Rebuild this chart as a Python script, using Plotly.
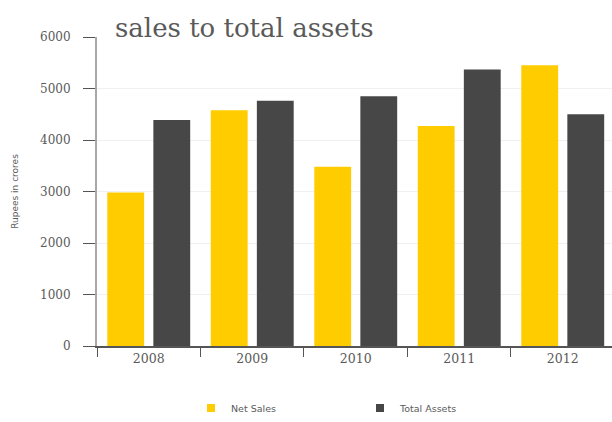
import plotly.graph_objects as go

years = ["2008", "2009", "2010", "2011", "2012"]
net_sales = [2980, 4580, 3480, 4270, 5450]
total_assets = [4390, 4760, 4850, 5370, 4500]
y_ticks = [0, 1000, 2000, 3000, 4000, 5000, 6000]

YELLOW = "#FFCC00"
DARK = "#474747"
AXIS = "#555555"
TEXT = "#5a5a5a"

fig = go.Figure()
fig.add_trace(go.Bar(name="Net Sales", x=years, y=net_sales, showlegend=False,
                     marker=dict(color=YELLOW, line=dict(width=0))))
fig.add_trace(go.Bar(name="Total Assets", x=years, y=total_assets, showlegend=False,
                     marker=dict(color=DARK, line=dict(width=0))))

# legend entries with small square swatches, one legend box per series
fig.add_trace(go.Scatter(name="Net Sales", x=[years[0]], y=[None], mode="markers",
                         marker=dict(symbol="square", size=8, color=YELLOW),
                         legend="legend"))
fig.add_trace(go.Scatter(name="Total Assets", x=[years[0]], y=[None], mode="markers",
                         marker=dict(symbol="square", size=8, color=DARK),
                         legend="legend2"))

PLOT_L, PLOT_W, PLOT_T, PLOT_H = 97, 515, 37, 309
legend_style = dict(font=dict(family="DejaVu Sans", size=9.5, color=TEXT),
                    orientation="h", yanchor="middle", xanchor="left",
                    y=1 - (408 - PLOT_T) / PLOT_H, itemwidth=30,
                    bgcolor="rgba(0,0,0,0)")

fig.update_layout(
    width=612, height=422,
    margin=dict(l=PLOT_L, r=612 - PLOT_L - PLOT_W, t=PLOT_T, b=422 - PLOT_T - PLOT_H,
                autoexpand=False),
    paper_bgcolor="white", plot_bgcolor="white",
    barmode="group", bargap=0.11, bargroupgap=0.2,
    showlegend=True,
    legend=dict(x=(191 - PLOT_L) / PLOT_W, **legend_style),
    legend2=dict(x=(360 - PLOT_L) / PLOT_W, **legend_style),
    title=dict(text="sales to total assets", x=(115 - PLOT_L) / PLOT_W, xref="paper",
               xanchor="left", y=1 - 28 / 422, yref="container", yanchor="middle",
               font=dict(family="DejaVu Serif", size=26, color=TEXT)),
)

fig.update_xaxes(
    type="category", range=[-0.5, 4.476],
    showline=True, linecolor=AXIS, linewidth=1.5,
    ticks="outside", tickson="boundaries", ticklen=9, tickcolor=AXIS,
    tickfont=dict(family="DejaVu Serif", size=12.5, color=TEXT),
    showgrid=False,
)
fig.update_yaxes(
    range=[0, 6000], tickvals=y_ticks,
    showline=True, linecolor="#a8a8a8", linewidth=2,
    ticks="outside", ticklen=12, tickcolor=AXIS, ticklabelstandoff=10,
    tickfont=dict(family="DejaVu Serif", size=12, color=TEXT),
    showgrid=True, gridcolor="#f0f0f0", gridwidth=1, zeroline=False,
    title=dict(text="Rupees in crores", standoff=20,
               font=dict(family="DejaVu Sans", size=9, color=TEXT)),
)

fig.write_html("out.html")
